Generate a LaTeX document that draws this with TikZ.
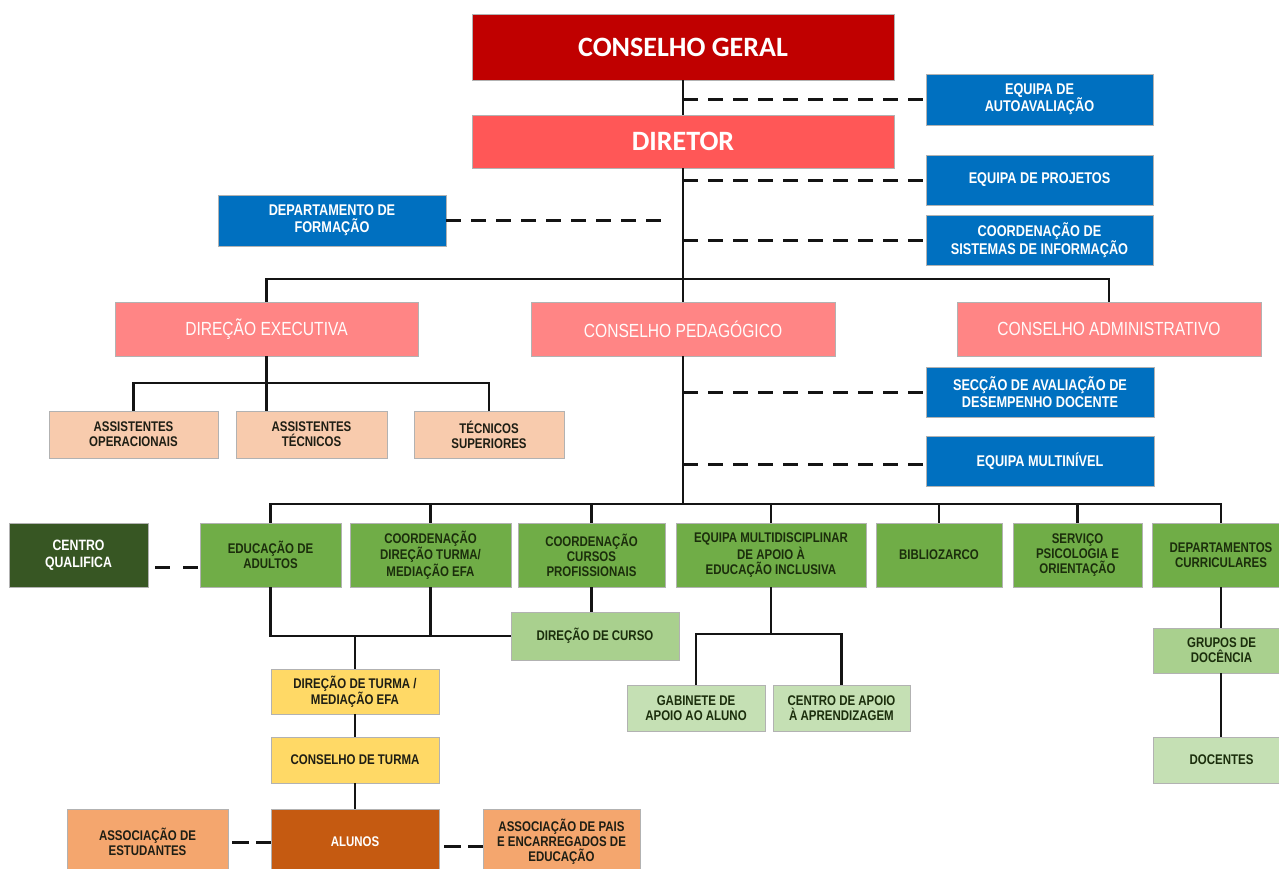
\documentclass[tikz,border=0pt]{standalone}
\usepackage{fontspec}
\newfontfamily\narrowfont[FakeStretch=0.82]{Liberation Sans}
\newfontfamily\calfont{Carlito}
\definecolor{cgred}{HTML}{C00000}
\definecolor{dirred}{HTML}{FF5757}
\definecolor{bluefill}{HTML}{0070C0}
\definecolor{pinkfill}{HTML}{FF8585}
\definecolor{peachfill}{HTML}{F8CBAD}
\definecolor{greenfill}{HTML}{70AD47}
\definecolor{darkgreenfill}{HTML}{375623}
\definecolor{lgreenfill}{HTML}{A9D08E}
\definecolor{llgreenfill}{HTML}{C5E0B4}
\definecolor{yellowfill}{HTML}{FFD966}
\definecolor{alunosfill}{HTML}{C55A11}
\definecolor{assocfill}{HTML}{F4A66E}
\definecolor{darktext}{HTML}{1E1E14}
\definecolor{greentext}{HTML}{1B2E0C}
\definecolor{linecol}{HTML}{141414}
\tikzset{
  box/.style={draw=black!30, line width=0.6pt, inner sep=0pt, align=center,
    font=\narrowfont\bfseries\fontsize{14}{15}\selectfont},
  topbox/.style={box, text=white, font=\calfont\bfseries\fontsize{28}{30}\selectfont},
  bluebox/.style={box, fill=bluefill, text=white, font=\narrowfont\bfseries\fontsize{15.5}{17}\selectfont},
  pinkbox/.style={box, fill=pinkfill, text=white!94!pink, font=\narrowfont\fontsize{19}{21}\selectfont},
  peachbox/.style={box, fill=peachfill, text=darktext},
  greenbox/.style={box, fill=greenfill, text=greentext},
  dgreenbox/.style={box, fill=darkgreenfill, text=white, font=\narrowfont\bfseries\fontsize{15}{17}\selectfont},
  lgreenbox/.style={box, fill=lgreenfill, text=greentext},
  llgreenbox/.style={box, fill=llgreenfill, text=greentext},
  yellowbox/.style={box, fill=yellowfill, text=darktext},
  alunosbox/.style={box, fill=alunosfill, text=white},
  assocbox/.style={box, fill=assocfill, text=darktext},
  conn/.style={line width=2.8pt, draw=linecol},
  dashline/.style={line width=3pt, draw=linecol, dash pattern=on 15pt off 10pt},
}
\newcommand\obox[7]{\node[#1, minimum width={(#5-#3)*1pt}, minimum height={(#6-#4)*1pt}] (#2) at ({(#3+#5)/2},{(#4+#6)/2}) {#7};}
\begin{document}
\begin{tikzpicture}[x=1pt,y=-1pt]
\useasboundingbox[fill=white] (0,0) rectangle (1279,868);
% top
\obox{topbox,fill=cgred}{cg}{472}{14}{894}{80}{CONSELHO GERAL}
\obox{topbox,fill=dirred}{dir}{472}{115}{894}{168}{DIRETOR}
\obox{bluebox}{ea}{926}{74}{1153}{125}{EQUIPA DE\\AUTOAVALIAÇÃO}
\obox{bluebox}{ep}{926}{155}{1153}{205}{EQUIPA DE PROJETOS}
\obox{bluebox}{csi}{926}{215}{1153}{265}{COORDENAÇÃO DE\\SISTEMAS DE INFORMAÇÃO}
\obox{bluebox}{df}{218}{195}{446}{246}{DEPARTAMENTO DE\\FORMAÇÃO}
% second level
\obox{pinkbox}{de}{115}{302}{418}{356}{DIREÇÃO EXECUTIVA}
\obox{pinkbox}{cp}{531}{302}{835}{356}{CONSELHO PEDAGÓGICO}
\obox{pinkbox}{cad}{957}{302}{1261}{356}{CONSELHO ADMINISTRATIVO}
\obox{peachbox}{ao}{49}{411}{218}{458}{ASSISTENTES\\OPERACIONAIS}
\obox{peachbox}{at}{236}{411}{387}{458}{ASSISTENTES\\TÉCNICOS}
\obox{peachbox}{ts}{414}{411}{564}{458}{TÉCNICOS\\SUPERIORES}
\obox{bluebox}{sad}{926}{367}{1154}{417}{SECÇÃO DE AVALIAÇÃO DE\\DESEMPENHO DOCENTE}
\obox{bluebox}{em}{926}{436}{1154}{486}{EQUIPA MULTINÍVEL}
% green row
\obox{dgreenbox}{cq}{9}{523}{148}{587}{CENTRO\\QUALIFICA}
\obox{greenbox}{eda}{200}{523}{341}{587}{EDUCAÇÃO DE\\ADULTOS}
\obox{greenbox}{cdt}{350}{523}{511}{587}{COORDENAÇÃO\\DIREÇÃO TURMA/\\MEDIAÇÃO EFA}
\obox{greenbox}{ccp}{518}{523}{665}{587}{COORDENAÇÃO\\CURSOS\\PROFISSIONAIS}
\obox{greenbox}{emd}{676}{523}{866}{587}{EQUIPA MULTIDISCIPLINAR\\DE APOIO À\\EDUCAÇÃO INCLUSIVA}
\obox{greenbox}{bib}{876}{523}{1002}{587}{BIBLIOZARCO}
\obox{greenbox}{spo}{1013}{523}{1142}{587}{SERVIÇO\\PSICOLOGIA E\\ORIENTAÇÃO}
\obox{greenbox}{dcu}{1152}{523}{1290}{587}{DEPARTAMENTOS\\CURRICULARES}
% lower
\obox{lgreenbox}{dc}{511}{612}{679}{660}{DIREÇÃO DE CURSO}
\obox{llgreenbox}{gab}{627}{685}{765}{731}{GABINETE DE\\APOIO AO ALUNO}
\obox{llgreenbox}{cap}{773}{685}{910}{731}{CENTRO DE APOIO\\À APRENDIZAGEM}
\obox{lgreenbox}{grp}{1153}{628}{1290}{673}{GRUPOS DE\\DOCÊNCIA}
\obox{llgreenbox}{doc}{1153}{737}{1290}{783}{DOCENTES}
\obox{yellowbox}{dtm}{271}{669}{439}{714}{DIREÇÃO DE TURMA /\\MEDIAÇÃO EFA}
\obox{yellowbox}{ct}{271}{737}{439}{783}{CONSELHO DE TURMA}
\obox{alunosbox}{al}{271}{809}{439}{875}{ALUNOS}
\obox{assocbox}{ae}{67}{809}{228}{875}{ASSOCIAÇÃO DE\\ESTUDANTES}
\obox{assocbox}{apa}{483}{809}{640}{875}{ASSOCIAÇÃO DE PAIS\\E ENCARREGADOS DE\\EDUCAÇÃO}
% coordinates
\coordinate (topbar) at (683,279);
\coordinate (subbar) at (261,383);
\coordinate (mainbar) at (683,504);
\coordinate (eb) at (772,634);
\coordinate (dfend) at (664,220);
% main spine
\draw[conn] (cg.south) -- (dir.north);
\draw[conn] (dir.south) -- (cp.north);
\draw[conn] (cp.south) -- (mainbar);
\draw[conn] (de.north) |- (topbar) -| (cad.north);
\draw[conn] (de.south) -- (de.south |- at.north);
\draw[conn] (ao.north) |- (subbar) -| (ts.north);
\draw[conn] (eda.north) |- (mainbar) -| (dcu.north);
\foreach \n in {cdt,ccp,emd,bib,spo} \draw[conn] (\n.north) -- (\n.north |- mainbar);
\draw[conn] (ccp.south) -- (ccp.south |- dc.north);
\draw[conn] (eda.south) |- (dc.west);
\draw[conn] (cdt.south) -- (cdt.south |- dc.west);
\draw[conn] (dtm.north) -- (dtm.north |- dc.west);
\draw[conn] (dtm.south) -- (ct.north);
\draw[conn] (ct.south) -- (al.north);
\draw[conn] (emd.south) -- (emd.south |- eb);
\draw[conn] (gab.north) |- (emd.south |- eb) -| (cap.north);
\draw[conn] (dcu.south) -- (dcu.south |- grp.north);
\draw[conn] (dcu.south |- grp.south) -- (dcu.south |- doc.north);
% dashed
\draw[dashline] (ea.west -| cg.south) -- (ea.west);
\draw[dashline] (ep.west -| cg.south) -- (ep.west);
\draw[dashline] (csi.west -| cg.south) -- (csi.west);
\draw[dashline] (df.east |- dfend) -- (dfend);
\draw[dashline] (sad.west -| cg.south) -- (sad.west);
\draw[dashline] ([yshift=-3pt]em.west -| cg.south) -- ([yshift=-3pt]em.west);
\draw[dashline, dash pattern=on 15pt off 13pt] ([xshift=7pt,yshift=-12pt]cq.east) -- ([xshift=-2pt,yshift=-12pt]eda.west);
\draw[dashline, dash pattern=on 17pt off 7pt] ([xshift=4pt]ae.east) -- (al.west);
\draw[dashline, dash pattern=on 17pt off 7pt] ([xshift=5pt,yshift=-4pt]al.east) -- ([yshift=-4pt]apa.west);
\end{tikzpicture}
\end{document}
